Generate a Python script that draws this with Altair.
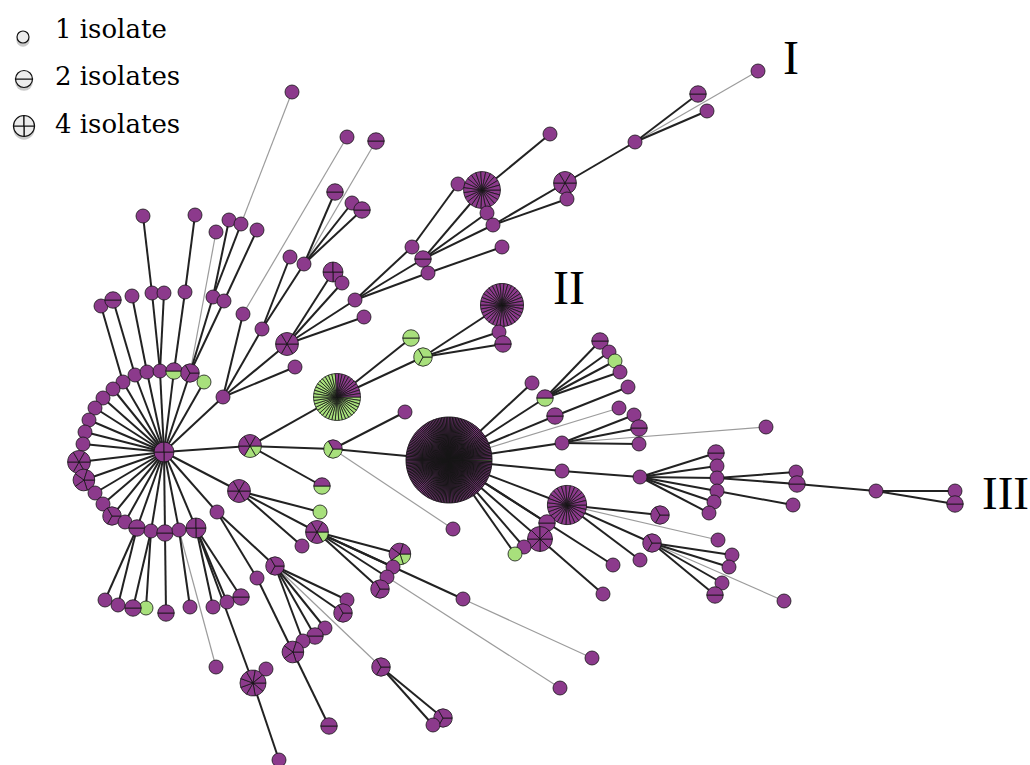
import altair as alt
import pandas as pd
import numpy as np

# ---------------- nodes (position in picture units, isolates, green isolates) -------------
node_id = [
    "H", "a1", "a2", "a3", "a4", "a5", "a6", "a7", "a8", "a9", "a10", "a11", "a12", "a13", "a14",
    "a15", "a16", "a17", "a18", "a19", "a20", "a21", "a22", "a23", "a24",
    "t1", "t2", "t3", "t4", "t5", "t6", "t7", "t8", "u1", "u2", "u3", "u4", "u5", "u6", "top",
    "m1", "m2", "m3", "m4", "m5", "m6", "m7", "m8", "m9", "m10", "m11", "m12", "m13", "m14", "m15", "m16",
    "i1", "i2", "i3", "i4", "i5", "i6", "i7", "i8", "i9", "i10", "i11", "i12", "i13", "i14", "i15",
    "G", "g1", "g2", "II", "g3", "g4",
    "c1", "c2", "c3", "c4", "c5", "B",
    "b1", "b2", "b3", "b4", "b5", "b6", "b7", "b8", "b9", "b10", "b11", "b12", "b13", "b14", "b15",
    "r1", "r2", "r3", "r4", "r5", "r6", "r7", "r8", "r9", "r10", "r11", "r12", "r13",
    "d1", "d2", "d3", "d4", "d5", "d6", "d7", "d8", "d9", "d10", "d11", "d12", "d13", "d14", "d15", "d16",
    "e1", "e2", "e3", "e4", "e5", "e6", "e7", "e8", "e9", "e10", "e11", "e12", "e13", "e14", "e15",
    "e16", "e17", "e18", "e19", "e20", "e21", "e22", "e23", "e24", "e25", "e26", "e27", "e28", "e29",
    "e30", "e31", "e32", "e33", "e34", "e35", "e36", "e37",
]
node_x = [
    164, 135, 147, 160, 174, 190, 204, 123, 113, 103, 95, 89, 85, 83, 79,
    84, 95, 103, 112, 125, 137, 151, 165, 179, 196,
    101, 113, 132, 152, 164, 185, 213, 224, 143, 195, 216, 229, 241, 257, 292,
    223, 243, 262, 287, 295, 290, 304, 335, 352, 362, 347, 376, 333, 342, 355, 364,
    412, 423, 428, 458, 482, 487, 493, 502, 550, 565, 567, 635, 698, 707, 758,
    337, 411, 423, 502, 499, 503,
    250, 333, 405, 453, 322, 449,
    532, 545, 555, 562, 562, 619, 600, 609, 615, 620, 628, 634, 639, 639, 766,
    640, 716, 717, 717, 717, 714, 709, 796, 797, 793, 876, 955, 955,
    567, 547, 540, 524, 515, 613, 660, 718, 652, 640, 603, 732, 729, 722, 715, 784,
    239, 217, 320, 317, 302, 400, 393, 387, 380, 463, 592, 560, 275, 257, 347,
    343, 325, 315, 303, 381, 443, 433, 293, 329, 253, 266, 279, 216, 241,
    227, 213, 190, 166, 146, 133, 118, 105,
]
node_y = [
    452, 375, 372, 371, 371, 373, 382, 382, 389, 398, 408, 420, 432, 444, 462,
    480, 493, 504, 516, 522, 528, 531, 533, 530, 528,
    306, 300, 296, 293, 293, 292, 297, 301, 216, 215, 232, 220, 224, 230, 92,
    397, 314, 329, 344, 367, 257, 264, 192, 203, 210, 137, 141, 272, 283, 300, 317,
    247, 259, 273, 184, 190, 213, 225, 247, 134, 183, 199, 142, 94, 111, 71,
    397, 338, 357, 305, 332, 344,
    446, 449, 412, 529, 486, 460,
    383, 398, 416, 443, 471, 408, 341, 352, 361, 372, 387, 415, 428, 444, 427,
    477, 453, 466, 478, 491, 502, 513, 472, 484, 505, 491, 491, 504,
    505, 523, 539, 547, 554, 565, 515, 540, 543, 560, 594, 555, 567, 583, 595, 601,
    491, 512, 512, 532, 546, 554, 567, 577, 589, 599, 658, 688, 566, 578, 600,
    613, 628, 636, 641, 667, 718, 725, 652, 726, 683, 669, 760, 667, 597,
    602, 607, 607, 613, 608, 608, 605, 600,
]
node_isolates = [
    4, 1, 1, 1, 2, 3, 1, 1, 1, 1, 1, 1, 1, 1, 6,
    5, 1, 1, 3, 1, 2, 1, 2, 1, 4,
    1, 2, 1, 1, 1, 1, 1, 1, 1, 1, 1, 1, 1, 1, 1,
    1, 1, 1, 6, 1, 1, 1, 2, 1, 2, 1, 2, 4, 1, 1, 1,
    1, 2, 1, 1, 23, 1, 1, 1, 1, 6, 1, 1, 2, 1, 1,
    42, 2, 3, 34, 1, 2,
    6, 3, 1, 1, 2, 169,
    1, 2, 2, 1, 1, 1, 2, 1, 1, 1, 1, 1, 2, 1, 1,
    1, 2, 1, 1, 1, 1, 1, 1, 2, 1, 1, 1, 2,
    27, 2, 8, 1, 1, 1, 3, 1, 3, 1, 1, 1, 1, 1, 2, 1,
    6, 1, 1, 6, 1, 5, 1, 1, 3, 1, 1, 1, 3, 1, 1,
    3, 1, 2, 1, 3, 3, 1, 5, 2, 9, 1, 1, 1, 2,
    1, 1, 1, 2, 1, 2, 1, 1,
]
node_green = [
    0, 0, 0, 0, 1, 0, 1, 0, 0, 0, 0, 0, 0, 0, 0,
    0, 0, 0, 0, 0, 0, 0, 0, 0, 0,
    0, 0, 0, 0, 0, 0, 0, 0, 0, 0, 0, 0, 0, 0, 0,
    0, 0, 0, 0, 0, 0, 0, 0, 0, 0, 0, 0, 0, 0, 0, 0,
    0, 0, 0, 0, 0, 0, 0, 0, 0, 0, 0, 0, 0, 0, 0,
    31, 2, 3, 0, 0, 0,
    2, 2, 0, 0, 1, 1,
    0, 1, 0, 0, 0, 0, 0, 0, 1, 0, 0, 0, 0, 0, 0,
    0, 0, 0, 0, 0, 0, 0, 0, 0, 0, 0, 0, 0,
    0, 0, 0, 0, 1, 0, 0, 0, 0, 0, 0, 0, 0, 0, 0, 0,
    0, 0, 1, 1, 0, 2, 0, 0, 0, 0, 0, 0, 0, 0, 0,
    0, 0, 0, 0, 0, 0, 0, 0, 0, 0, 0, 0, 0, 0,
    0, 0, 0, 0, 1, 0, 0, 0,
]

# ---------------- edges ----------------
edge_src = (["H"] * 28 +
            ["t1", "t2", "t3", "t4", "t5", "t6", "t7", "t8", "u1", "u2", "u4", "u5", "u6"] +
            ["m1", "m1", "m1", "m1", "m3", "m3", "m7", "m7", "m7", "m4", "m4", "m4", "m4"] +
            ["m15", "m15", "m15", "i1", "i2", "i2", "i2", "i3", "i5", "i7", "i7", "i10", "i12", "i12"] +
            ["c1", "G", "G", "g2", "g2", "g2"] +
            ["c1", "c2", "c1", "c2"] +
            ["B", "B", "B", "B", "B", "b2", "b2", "b2", "b2", "b3", "b4", "b4", "b4"] +
            ["b5", "r1", "r1", "r1", "r1", "r1", "r1", "r4", "r4", "r5", "r9", "r11", "r11"] +
            ["B", "B", "B", "B", "B", "B", "d1", "d1", "d1", "d3", "d9", "d9", "d9", "d9"] +
            ["e1", "e1", "e1", "e4", "e4", "e4", "e4", "e4", "e2", "e2", "e13", "e13", "e13", "e13",
             "e13", "e20", "e20", "e14", "e23", "a24", "e25", "e25", "a24", "a24", "a24", "a23",
             "a22", "a21", "a21", "a20", "a20"])
edge_dst = (["a1", "a2", "a3", "a4", "a5", "a6", "a7", "a8", "a9", "a10", "a11", "a12", "a13", "a14",
             "a15", "a16", "a17", "a18", "a19", "a20", "a21", "a22", "a23", "a24", "m1", "c1", "e1", "e2"] +
            ["a7", "a1", "a2", "a3", "a3", "a4", "a5", "a5", "t4", "t6", "t7", "t7", "t8"] +
            ["m2", "m3", "m4", "m5", "m6", "m7", "m8", "m9", "m10", "m13", "m14", "m15", "m16"] +
            ["i1", "i2", "i3", "i4", "i5", "i6", "i7", "i8", "i9", "i10", "i11", "i12", "i13", "i14"] +
            ["G", "g1", "g2", "II", "g3", "g4"] +
            ["c2", "c3", "c5", "B"] +
            ["b1", "b2", "b3", "b4", "b5", "b7", "b8", "b9", "b10", "b11", "b12", "b13", "b14"] +
            ["r1", "r2", "r3", "r4", "r5", "r6", "r7", "r8", "r9", "r10", "r11", "r12", "r13"] +
            ["d1", "d2", "d3", "d4", "d5", "d6", "d7", "d9", "d10", "d11", "d12", "d13", "d14", "d15"] +
            ["e3", "e4", "e5", "e6", "e7", "e8", "e9", "e10", "e13", "e14", "e15", "e16", "e17", "e18",
             "e19", "e21", "e22", "e23", "e24", "e25", "e26", "e27", "e29", "e30", "e31", "e32",
             "e33", "e34", "e35", "e36", "e37"])
thin_src = ["u3", "top", "m2", "m7", "i12", "c2", "B", "b4", "d1", "d9", "e10", "e8", "e13", "a23"]
thin_dst = ["a5", "u5", "m11", "m12", "i15", "c4", "b6", "b15", "d8", "d16", "e11", "e12", "e20", "e28"]

# ---------------- legend and labels ----------------
legend_labels = ["1 isolate", "2 isolates", "4 isolates"]
legend_isolates = [1, 2, 4]
cluster_labels = ["I", "II", "III"]

PURPLE = "#8C3A8C"
GREEN = "#A8E07C"

pos = {i: (x, y) for i, x, y in zip(node_id, node_x, node_y)}


def edge_frame(src, dst):
    return pd.DataFrame([
        {"x": pos[s][0], "y": pos[s][1], "x2": pos[d][0], "y2": pos[d][1]}
        for s, d in zip(src, dst)
    ])


thick_df = edge_frame(edge_src, edge_dst)
thin_df = edge_frame(thin_src, thin_dst)

rows = []
for i, x, y, n, g in zip(node_id, node_x, node_y, node_isolates, node_green):
    r = 4 + 3 * np.sqrt(n)
    step = 2 * np.pi / n
    sw = 0.95 if n > 100 else 0.8
    for k in range(n):
        t0 = np.pi / 2 + k * step
        rows.append({"node": i, "x": x, "y": y, "r": r, "t0": t0, "t1": t0 + step,
                     "fill": GREEN if k < g else PURPLE, "sw": sw})
slice_df = pd.DataFrame(rows)

# legend icons
leg_x = [23, 24, 24]
leg_y = [37, 79, 126]
leg_r = [6, 8.5, 10.5]
leg_rows = []
for x, y, r, n in zip(leg_x, leg_y, leg_r, legend_isolates):
    step = 2 * np.pi / n
    for k in range(n):
        t0 = np.pi / 2 + k * step
        leg_rows.append({"x": x, "y": y, "r": r, "t0": t0, "t1": t0 + step})
leg_df = pd.DataFrame(leg_rows)
shadow_df = pd.DataFrame({"x": leg_x, "y": [v + 3 for v in leg_y],
                          "s": [np.pi * (r + 1.5) ** 2 for r in leg_r]})
leg_text_df = pd.DataFrame({"x": [55, 55, 55], "y": [30, 77, 125], "t": legend_labels})
cl_df = pd.DataFrame({"x": [783, 553, 982], "y": [60, 290, 495], "t": cluster_labels,
                      "fs": [48, 48, 47]})

xs = alt.Scale(domain=[0, 1030], nice=False, zero=False)
ys = alt.Scale(domain=[0, 765], nice=False, zero=False, reverse=True)
X = alt.X("x:Q", scale=xs, axis=None)
Y = alt.Y("y:Q", scale=ys, axis=None)

thin_layer = alt.Chart(thin_df).mark_rule(color="#9c9c9c", strokeWidth=1.2).encode(
    x=X, y=Y, x2="x2:Q", y2="y2:Q")
thick_layer = alt.Chart(thick_df).mark_rule(color="#222222", strokeWidth=2).encode(
    x=X, y=Y, x2="x2:Q", y2="y2:Q")

pie_layer = alt.Chart(slice_df).mark_arc(stroke="#151515").encode(
    x=X, y=Y,
    theta=alt.Theta("t0:Q", scale=None, stack=False),
    theta2="t1:Q",
    radius=alt.Radius("r:Q", scale=None),
    fill=alt.Fill("fill:N", scale=None),
    strokeWidth=alt.StrokeWidth("sw:Q", scale=None),
)

shadow_layer = alt.Chart(shadow_df).mark_circle(color="#666666", opacity=0.35).encode(
    x=X, y=Y, size=alt.Size("s:Q", scale=None))
leg_layer = alt.Chart(leg_df).mark_arc(stroke="#111111", strokeWidth=1.2, fill="#ececec").encode(
    x=X, y=Y,
    theta=alt.Theta("t0:Q", scale=None, stack=False),
    theta2="t1:Q",
    radius=alt.Radius("r:Q", scale=None),
)
leg_text = alt.Chart(leg_text_df).mark_text(
    font="DejaVu Serif", fontSize=26, align="left", baseline="middle", color="black"
).encode(x=X, y=Y, text="t:N")
cl_text = alt.Chart(cl_df).mark_text(
    font="Liberation Serif", align="left", baseline="middle", color="black"
).encode(x=X, y=Y, text="t:N", size=alt.Size("fs:Q", scale=None))

chart = alt.layer(
    thin_layer, thick_layer, pie_layer, shadow_layer, leg_layer, leg_text, cl_text
).properties(
    width=1030, height=765, padding=0, autosize="none", background="white"
).configure_view(strokeWidth=0)

chart.save("out.html", embed_options={"renderer": "svg", "actions": False})
